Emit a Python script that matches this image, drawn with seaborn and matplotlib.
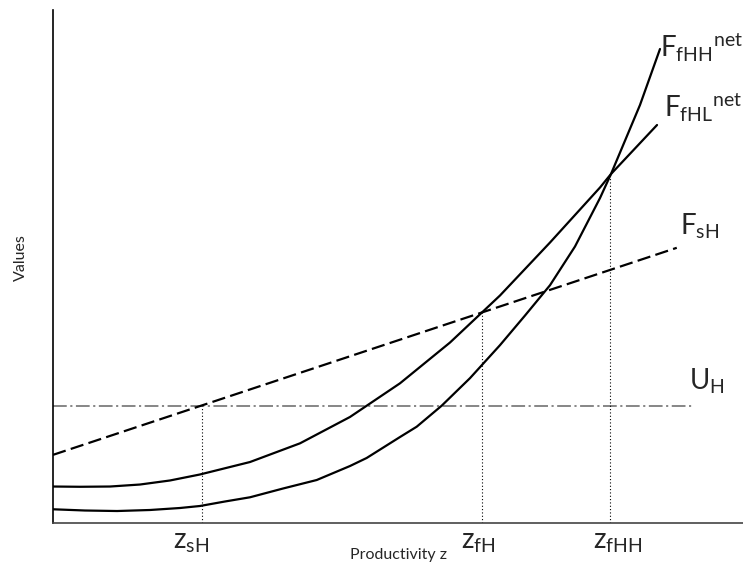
import matplotlib
matplotlib.use("Agg")
import matplotlib.pyplot as plt
import pandas as pd
import seaborn as sns

# ---- data (productivity z on the horizontal axis, values on the vertical) ----
z_fhl = [0.000, 0.391, 0.826, 1.261, 1.696, 2.130, 2.855, 3.580, 4.304, 5.029,
         5.754, 6.478, 7.203, 7.928, 8.087, 8.754]
v_fhl = [0.702, 0.697, 0.702, 0.741, 0.820, 0.937, 1.180, 1.545, 2.059, 2.716,
         3.512, 4.429, 5.463, 6.537, 6.800, 7.756]

z_fhh = [0.000, 0.464, 0.928, 1.406, 1.841, 2.130, 2.493, 2.855, 3.333, 3.822,
         4.304, 4.546, 5.029, 5.271, 5.633, 6.043, 6.478, 6.841, 7.203, 7.565,
         7.928, 8.087, 8.507, 8.797]
v_fhh = [0.258, 0.234, 0.224, 0.244, 0.283, 0.322, 0.410, 0.492, 0.663, 0.829,
         1.102, 1.259, 1.668, 1.869, 2.279, 2.816, 3.460, 4.039, 4.630, 5.385,
         6.332, 6.800, 8.146, 9.239]

z_fsh = [0.00, 9.04]
v_fsh = [1.32, 5.36]

z_uh = [0.00, 9.27]
v_uh = [2.28, 2.28]

cutoff_z = [2.16, 6.22, 8.07]
cutoff_v = [2.28, 4.10, 6.80]
cutoff_labels = [r"$\mathrm{z}_{\mathrm{sH}}$", r"$\mathrm{z}_{\mathrm{fH}}$", r"$\mathrm{z}_{\mathrm{fHH}}$"]
cutoff_label_x = [1.74, 5.92, 7.82]

curve_labels = [r"$\mathrm{F}_{\mathrm{fHH}}{}^{\mathrm{net}}$", r"$\mathrm{F}_{\mathrm{fHL}}{}^{\mathrm{net}}$",
                r"$\mathrm{F}_{\mathrm{sH}}$", r"$\mathrm{U}_{\mathrm{H}}$"]
curve_label_x = [8.80, 8.85, 9.09, 9.22]
curve_label_y = [9.09, 7.92, 5.61, 2.60]

# ---- style ----
sns.set_theme(style="white")
plt.rcParams["font.family"] = ["Lato", "DejaVu Sans"]
plt.rcParams["mathtext.fontset"] = "custom"
plt.rcParams["mathtext.rm"] = "Lato"
plt.rcParams["mathtext.it"] = "Lato:italic"
plt.rcParams["mathtext.bf"] = "Lato:bold"

fig = plt.figure(figsize=(7.43, 5.65), dpi=100)
ax = fig.add_axes([53 / 743, 42.5 / 565, 690 / 743, 512.5 / 565])

df_fhl = pd.DataFrame({"z": z_fhl, "v": v_fhl})
df_fhh = pd.DataFrame({"z": z_fhh, "v": v_fhh})
df_fsh = pd.DataFrame({"z": z_fsh, "v": v_fsh})
df_uh = pd.DataFrame({"z": z_uh, "v": v_uh})

sns.lineplot(data=df_uh, x="z", y="v", ax=ax, color="#666666", lw=1.1,
             linestyle=(0, (9, 2.3, 1.4, 2.3)), sort=False)
sns.lineplot(data=df_fsh, x="z", y="v", ax=ax, color="black", lw=1.6,
             linestyle=(0, (6, 2.4)), sort=False)
sns.lineplot(data=df_fhl, x="z", y="v", ax=ax, color="black", lw=1.6, sort=False)
sns.lineplot(data=df_fhh, x="z", y="v", ax=ax, color="black", lw=1.6, sort=False)

ax.vlines(cutoff_z, 0, cutoff_v, colors="black", lw=0.8, linestyles=(0, (1, 2)))

for x, lab in zip(cutoff_label_x, cutoff_labels):
    ax.text(x, -0.50, lab, fontsize=20, ha="left", va="baseline", clip_on=False)

for x, y, lab in zip(curve_label_x, curve_label_y, curve_labels):
    ax.text(x, y, lab, fontsize=20, ha="left", va="baseline", clip_on=False)

ax.set_xlim(0, 10)
ax.set_ylim(0, 10)
ax.set_xticks([])
ax.set_yticks([])
ax.set_xlabel("Productivity z", fontsize=11.5)
ax.set_ylabel("Values", fontsize=11.5)
ax.xaxis.set_label_coords(0.5, -0.05)
ax.yaxis.set_label_coords(-0.036, 0.516)

for s in ("top", "right"):
    ax.spines[s].set_visible(False)
ax.spines["left"].set_color("black")
ax.spines["left"].set_linewidth(1.2)
ax.spines["bottom"].set_color("#444444")
ax.spines["bottom"].set_linewidth(1.2)

fig.savefig("out.png", dpi=100)
